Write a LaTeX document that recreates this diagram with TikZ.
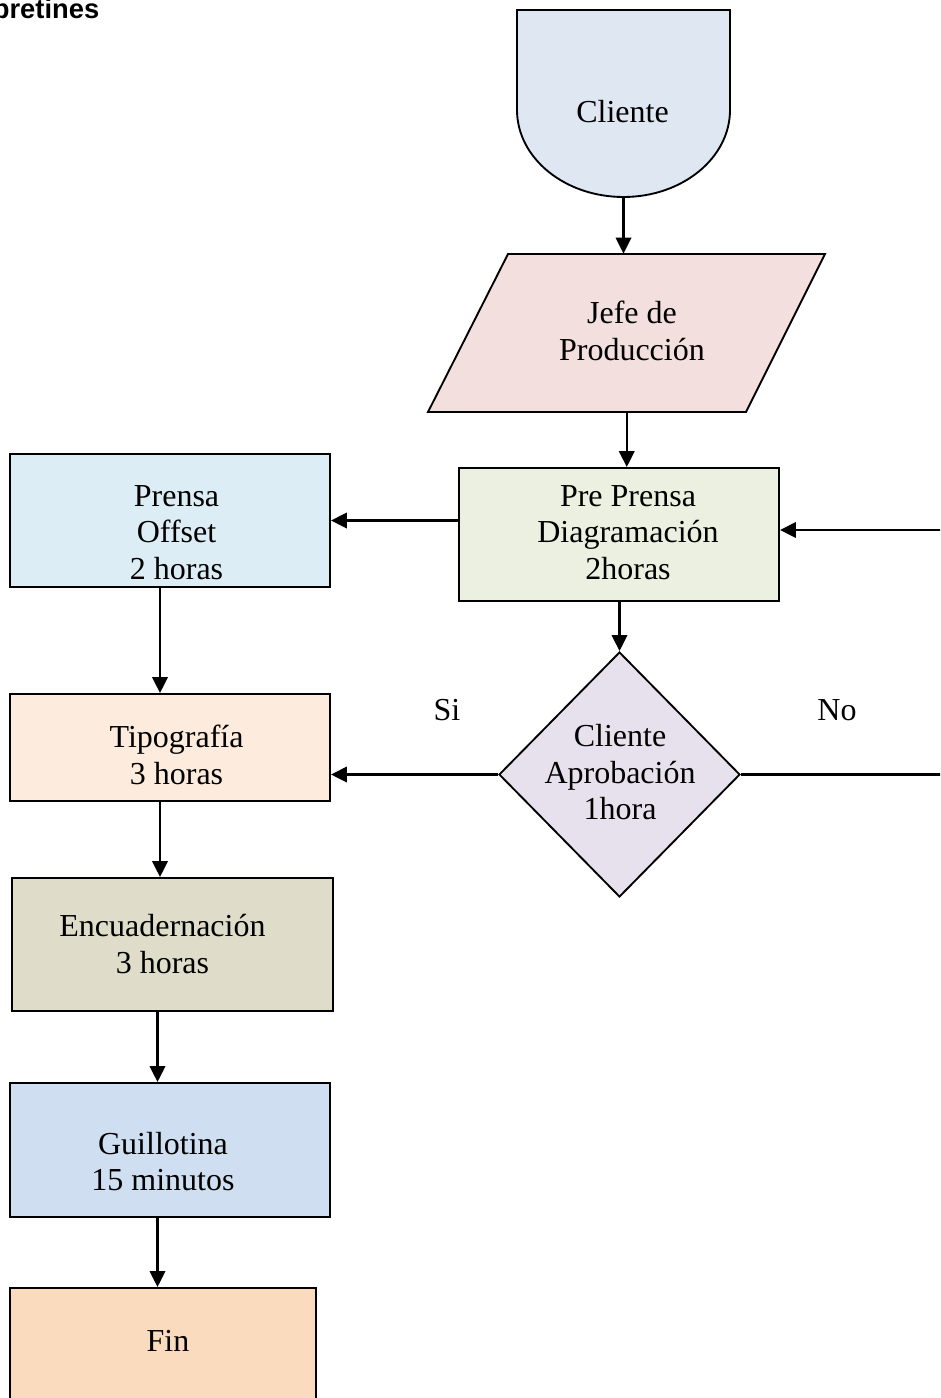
\documentclass[tikz,border=0pt]{standalone}
\usepackage{fontspec}
\setmainfont{Liberation Serif}
\newfontfamily\headsans{Liberation Sans}
\usetikzlibrary{shapes.geometric,arrows.meta}

\definecolor{clientec}{HTML}{DFE7F2}
\definecolor{jefec}{HTML}{F2DFDE}
\definecolor{prec}{HTML}{EBF0E0}
\definecolor{prensac}{HTML}{DDEDF5}
\definecolor{aprobc}{HTML}{E6E1EC}
\definecolor{tipoc}{HTML}{FDEBDD}
\definecolor{encuc}{HTML}{DFDCC9}
\definecolor{guillc}{HTML}{CFDFF1}
\definecolor{finc}{HTML}{FBDBBD}

\begin{document}
\begin{tikzpicture}[x=0.75pt,y=-0.75pt,
  every node/.style={font=\fontsize{24}{27.4}\selectfont},
  outline/.style={draw=black,line width=1.4pt},
  procbox/.style={outline,rectangle,inner sep=0pt,minimum width=240pt,minimum height=99.75pt},
  txt/.style={align=center,inner sep=0pt},
  frame/.style={rectangle,inner sep=0pt},
  arr/.style={line width=1.8pt,-{Triangle[length=12pt,width=11.5pt]}},
  link/.style={line width=1.8pt}]
\useasboundingbox (0,0) rectangle (940,1398);
\clip (0,0) rectangle (940,1398);

% heading (cut at the page edge)
\node[font=\headsans\bfseries\fontsize{20.5}{23}\selectfont,anchor=base east,inner sep=0pt]
  (title) at (99.5,19) {pretines};

% terminal shape: flat top, elliptic bottom
\path[outline,fill=clientec] (517,10) -- (730,10) -- (730,110)
  .. controls (730,158) and (682.3,197) .. (623.5,197)
  .. controls (564.7,197) and (517,158) .. (517,110) -- cycle;
\node[frame,minimum width=159.75pt,minimum height=140.25pt,
  label={[txt,xshift=-0.75pt,yshift=-6.4pt]center:Cliente}] (cliente) at (623.5,103.5) {};

% input/output parallelogram
\path[outline,fill=jefec] (508,254) -- (825,254) -- (746,412) -- (428,412) -- cycle;
\node[frame,minimum width=238pt,minimum height=118.5pt,
  label={[txt,xshift=3.9pt,yshift=1.5pt]center:{Jefe de\\Producción}}] (jefe) at (626.75,333) {};

% process boxes
\node[procbox,fill=prec,
  label={[txt,xshift=6.75pt,yshift=1.5pt]center:{Pre Prensa\\Diagramación\\2horas}}] (pre) at (619,534.5) {};
\node[procbox,fill=prensac,
  label={[txt,xshift=4.9pt,yshift=-9pt]center:{Prensa\\Offset\\2 horas}}] (prensa) at (170,520.5) {};
\node[outline,diamond,inner sep=0pt,minimum width=180.75pt,minimum height=183.75pt,fill=aprobc,
  label={[txt,xshift=0.4pt,yshift=1.5pt]center:{Cliente\\Aprobación\\1hora}}] (dia) at (619.5,774.5) {};
\node[procbox,minimum height=80.25pt,fill=tipoc,
  label={[txt,xshift=4.9pt,yshift=-5.6pt]center:{Tipografía\\3 horas}}] (tipo) at (170,747.5) {};
\node[procbox,minimum width=240.75pt,fill=encuc,
  label={[txt,xshift=-7.5pt,yshift=0.4pt]center:{Encuadernación\\3 horas}}] (encu) at (172.5,944.5) {};
\node[procbox,minimum height=100.5pt,fill=guillc,
  label={[txt,xshift=-5.25pt,yshift=-8.6pt]center:{Guillotina\\15 minutos}}] (guill) at (170,1150) {};
\node[procbox,minimum width=229.5pt,fill=finc,
  label={[txt,xshift=3.75pt,yshift=10.1pt]center:Fin}] (fin) at (163,1354.5) {};

% branch labels
\node (si) at (447,710) {Si};
\node (no) at (837,710) {No};

% connectors
\coordinate (colA) at (160,0);
\coordinate (colB) at (157.5,0);
\coordinate (loopin) at (950,530);
\coordinate (loopout) at (950,774.5);

\draw[arr] (cliente.south) -- (cliente.south |- jefe.north);
\draw[arr] (jefe.south) -- (jefe.south |- pre.north);
\draw[arr] (pre.south -| dia.north) -- (dia.north);
\draw[arr] (pre.west |- prensa.east) -- (prensa.east);
\draw[arr] (loopin) -- (loopin -| pre.east);
\draw[link] (dia.east) -- (dia.east -| loopout);
\draw[arr] (dia.west) -- (dia.west -| tipo.east);
\draw[arr] (prensa.south -| colA) -- (tipo.north -| colA);
\draw[arr] (tipo.south -| colA) -- (encu.north -| colA);
\draw[arr] (encu.south -| colB) -- (guill.north -| colB);
\draw[arr] (guill.south -| colB) -- (fin.north -| colB);
\end{tikzpicture}
\end{document}
